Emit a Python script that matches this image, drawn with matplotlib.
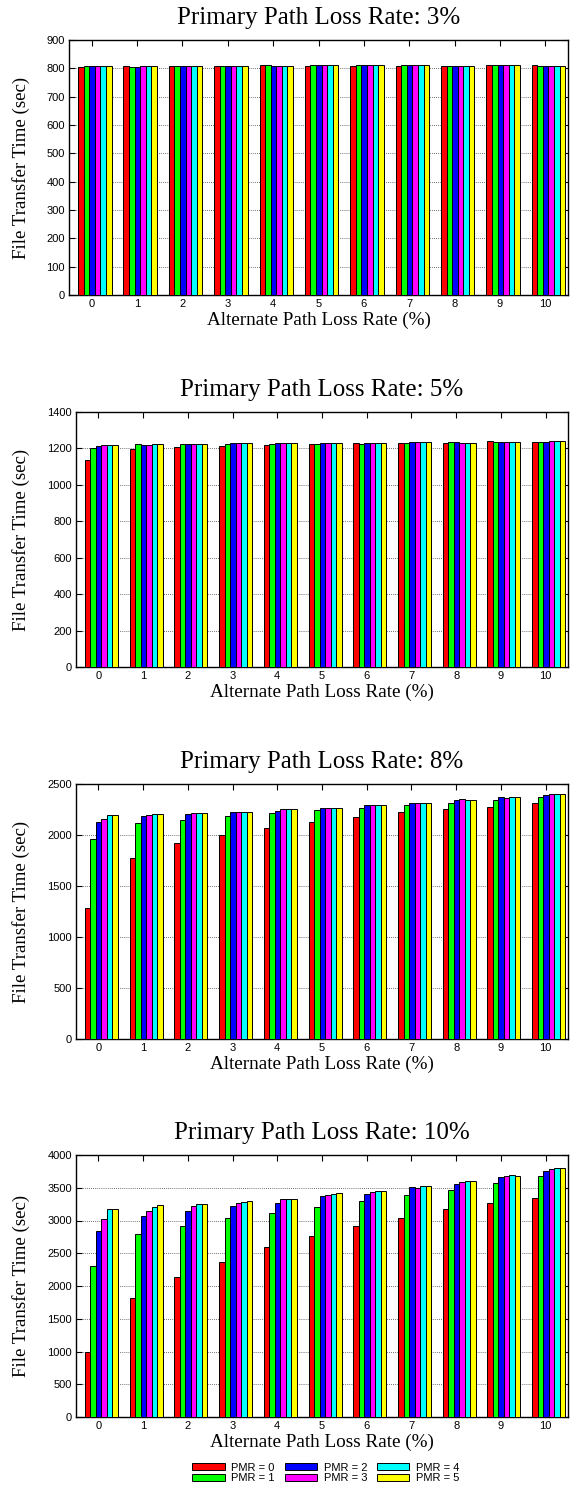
import matplotlib
matplotlib.use('Agg')
import matplotlib.pyplot as plt
import numpy as np

# Alternate path loss rate (%) on the x axis
alt_loss = list(range(11))
pmr_labels = ['PMR = 0', 'PMR = 1', 'PMR = 2', 'PMR = 3', 'PMR = 4', 'PMR = 5']
colors = ['#ff0000', '#00ff00', '#0000ff', '#ff00ff', '#00ffff', '#ffff00']

# File transfer time (sec), one row per alternate loss rate, columns PMR 0..5
loss3 = [
    [806, 810, 810, 810, 810, 810],
    [810, 806, 806, 807, 807, 807],
    [809, 808, 808, 809, 809, 809],
    [810, 807, 807, 808, 808, 808],
    [811, 811, 810, 810, 810, 810],
    [808, 811, 811, 811, 811, 811],
    [807, 812, 812, 812, 812, 812],
    [809, 811, 812, 812, 812, 812],
    [810, 809, 807, 807, 807, 807],
    [811, 811, 811, 811, 812, 812],
    [812, 810, 810, 810, 810, 810],
]
loss5 = [
    [1138, 1204, 1215, 1218, 1218, 1218],
    [1197, 1222, 1220, 1220, 1222, 1222],
    [1209, 1224, 1224, 1225, 1225, 1225],
    [1214, 1224, 1228, 1228, 1228, 1228],
    [1220, 1225, 1228, 1228, 1228, 1228],
    [1225, 1225, 1228, 1230, 1230, 1230],
    [1230, 1225, 1228, 1228, 1228, 1228],
    [1230, 1230, 1234, 1234, 1234, 1234],
    [1230, 1233, 1234, 1232, 1232, 1232],
    [1240, 1235, 1235, 1236, 1236, 1236],
    [1235, 1235, 1236, 1240, 1240, 1240],
]
loss8 = [
    [1286, 1961, 2131, 2157, 2196, 2193],
    [1779, 2121, 2187, 2196, 2206, 2206],
    [1922, 2151, 2206, 2219, 2219, 2219],
    [2000, 2190, 2226, 2226, 2226, 2226],
    [2072, 2219, 2236, 2255, 2255, 2255],
    [2131, 2245, 2265, 2265, 2268, 2268],
    [2177, 2265, 2294, 2294, 2294, 2294],
    [2226, 2298, 2314, 2314, 2311, 2314],
    [2255, 2314, 2347, 2353, 2343, 2343],
    [2278, 2343, 2373, 2366, 2369, 2369],
    [2311, 2376, 2396, 2402, 2405, 2405],
]
loss10 = [
    [1000, 2298, 2833, 3025, 3177, 3182],
    [1813, 2788, 3076, 3146, 3212, 3232],
    [2131, 2919, 3152, 3222, 3253, 3253],
    [2374, 3035, 3222, 3268, 3283, 3303],
    [2591, 3116, 3268, 3328, 3328, 3333],
    [2768, 3207, 3369, 3389, 3404, 3414],
    [2919, 3303, 3409, 3439, 3455, 3455],
    [3045, 3384, 3505, 3500, 3525, 3530],
    [3177, 3465, 3561, 3586, 3596, 3601],
    [3268, 3571, 3662, 3677, 3692, 3682],
    [3348, 3677, 3753, 3783, 3798, 3798],
]

titles = ['Primary Path Loss Rate: 3%', 'Primary Path Loss Rate: 5%',
          'Primary Path Loss Rate: 8%', 'Primary Path Loss Rate: 10%']
datasets = [loss3, loss5, loss8, loss10]
ymax = [900, 1400, 2500, 4000]
ystep = [100, 200, 500, 500]

W, H = 572, 1497
# axes boxes in pixels: left, right, top, bottom
boxes = [(69, 568, 40, 295), (76, 568, 412, 667),
         (76, 568, 784, 1039), (76, 568, 1155, 1417)]

serif = ['Liberation Serif', 'DejaVu Serif']
sans = ['Liberation Sans', 'DejaVu Sans']

fig = plt.figure(figsize=(W / 100, H / 100), dpi=100)

bar_w = 0.123
start = -0.30

for k in range(4):
    l, r, t, b = boxes[k]
    ax = fig.add_axes([l / W, 1 - b / H, (r - l) / W, (b - t) / H])
    data = np.array(datasets[k])
    x = np.array(alt_loss)
    for i in range(6):
        ax.bar(x + start + bar_w * (i + 0.5), data[:, i], width=bar_w,
               color=colors[i], edgecolor='black', linewidth=0.7, zorder=3,
               label=pmr_labels[i])
    ax.set_xlim(-0.5, 10.5)
    ax.set_ylim(0, ymax[k])
    ax.set_yticks(np.arange(0, ymax[k] + 1, ystep[k]))
    ax.set_xticks(x)
    ax.yaxis.grid(True, linestyle=(0, (1, 1.5)), color='#444444', linewidth=0.6, zorder=0)
    ax.tick_params(direction='in', top=True, right=True, length=4, width=0.8,
                   labelsize=8, pad=3)
    for lab in ax.get_xticklabels() + ax.get_yticklabels():
        lab.set_family(sans)
    for s in ax.spines.values():
        s.set_linewidth(1.0)

    ax.annotate(titles[k], xy=(0.5, 1), xycoords='axes fraction',
                xytext=(0, 15.5), textcoords='offset points',
                ha='center', va='center', fontsize=18, family=serif)
    ax.annotate('Alternate Path Loss Rate (%)', xy=(0.5, 0), xycoords='axes fraction',
                xytext=(0, -18.5), textcoords='offset points',
                ha='center', va='center', fontsize=13.8, family=serif)
    fig.text(21 / W, 1 - (t + b) / 2 / H, 'File Transfer Time (sec)', rotation=90,
             ha='center', va='center', fontsize=13.6, family=serif)

handles, labels = ax.get_legend_handles_labels()
fig.legend(handles, labels, loc='center', bbox_to_anchor=(326 / W, 1 - 1473 / H),
           ncol=3, frameon=False, prop={'family': sans, 'size': 8},
           handlelength=2.9, handleheight=0.55, handletextpad=0.6,
           columnspacing=0.9, labelspacing=0.05, borderpad=0)

fig.savefig('out.png', dpi=100)
